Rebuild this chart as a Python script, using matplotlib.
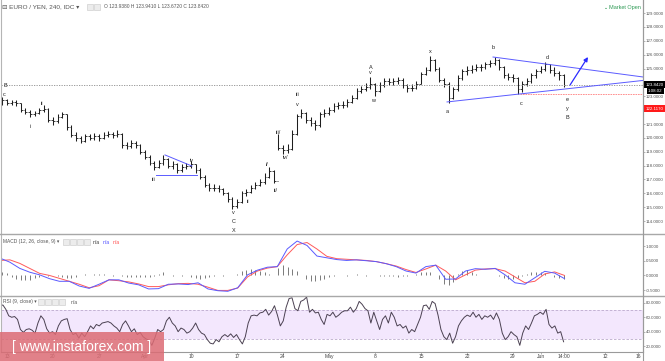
import matplotlib
matplotlib.use('Agg')
import matplotlib.pyplot as plt
from matplotlib.patches import Rectangle
from matplotlib.lines import Line2D
import numpy as np

plt.rcParams['font.family'] = ['Liberation Sans', 'DejaVu Sans']

# EUR/JPY 240 min, every half trading day (day 0 = Tue 13 Mar)
first_open = 122.6
closes = [122.7, 122.5, 122.6, 122.5, 122.0, 121.9, 121.7, 121.8, 122.0, 122.1,
          121.3, 121.2, 121.5, 121.7, 120.8, 120.2, 120.0, 119.8, 120.1, 120.0,
          120.1, 120.0, 120.2, 120.3, 120.2, 120.3, 119.5, 119.4, 119.6, 119.5,
          119.0, 118.6, 118.2, 117.9, 118.2, 118.5, 118.0, 118.1, 117.7, 117.9,
          118.0, 118.1, 117.7, 117.2, 116.6, 116.4, 116.4, 116.3, 116.0, 115.6,
          115.1, 115.4, 116.0, 116.1, 116.4, 116.6, 116.8, 117.2, 117.6, 116.9,
          119.3, 119.1, 119.2, 120.3, 121.6, 121.8, 121.3, 121.1, 120.9, 121.7,
          121.8, 122.0, 122.3, 122.4, 122.4, 122.6, 122.9, 123.4, 123.5, 123.7,
          123.9, 123.4, 123.8, 124.1, 124.0, 124.1, 124.2, 123.8, 123.6, 123.6,
          123.9, 124.6, 124.9, 125.6, 125.0, 124.2, 123.9, 122.9, 123.5, 124.3,
          124.8, 124.9, 125.0, 125.1, 125.1, 125.3, 125.4, 125.6, 125.1, 124.5,
          124.4, 124.3, 123.5, 123.9, 124.1, 124.5, 124.8, 125.0, 125.3, 124.9,
          124.7, 124.5, 123.842]
highs = [122.95, 122.8, 122.75, 122.7, 122.5, 122.15, 122.0, 121.95, 122.15, 122.35,
         122.15, 121.5, 121.7, 121.9, 121.75, 120.95, 120.4, 120.15, 120.3, 120.3,
         120.35, 120.25, 120.45, 120.5, 120.45, 120.55, 120.35, 119.7, 119.85, 119.8,
         119.55, 119.1, 118.75, 118.3, 118.4, 118.75, 118.55, 118.35, 118.2, 118.1,
         118.2, 118.3, 118.15, 117.8, 117.3, 116.75, 116.65, 116.6, 116.4, 116.1,
         115.75, 115.6, 116.2, 116.35, 116.6, 116.85, 117.05, 117.45, 117.9, 117.7,
         120.3, 119.5, 119.55, 120.6, 121.75, 122.1, 121.9, 121.5, 121.3, 121.85,
         122.05, 122.2, 122.5, 122.6, 122.65, 122.8, 123.1, 123.6, 123.75, 123.95,
         124.4, 123.95, 124.0, 124.35, 124.3, 124.35, 124.4, 124.3, 123.9, 123.85,
         124.1, 124.75, 125.1, 125.9, 125.7, 125.1, 124.3, 124.0, 123.7, 124.5,
         125.0, 125.15, 125.25, 125.35, 125.35, 125.5, 125.6, 125.85, 125.7, 125.2,
         124.7, 124.6, 124.4, 124.1, 124.35, 124.7, 125.0, 125.2, 125.45, 125.35,
         125.1, 124.8, 124.6]
lows = [122.4, 122.35, 122.4, 122.3, 121.85, 121.7, 121.5, 121.55, 121.75, 121.9,
        121.15, 120.95, 121.1, 121.4, 120.6, 120.05, 119.8, 119.6, 119.7, 119.85,
        119.85, 119.8, 119.9, 120.05, 120.0, 120.05, 119.3, 119.2, 119.3, 119.3,
        118.85, 118.45, 118.05, 117.7, 117.8, 118.05, 117.8, 117.75, 117.5, 117.55,
        117.75, 117.85, 117.5, 117.0, 116.45, 116.2, 116.15, 116.1, 115.85, 115.4,
        114.85, 114.95, 115.3, 115.8, 116.0, 116.3, 116.5, 116.7, 117.1, 116.75,
        119.1, 118.85, 118.9, 119.1, 120.2, 121.45, 121.1, 120.85, 120.6, 120.8,
        121.5, 121.65, 121.85, 122.1, 122.15, 122.2, 122.5, 122.8, 123.2, 123.35,
        123.5, 123.05, 123.3, 123.7, 123.8, 123.8, 123.9, 123.6, 123.3, 123.35,
        123.5, 123.85, 124.5, 124.8, 124.85, 124.0, 123.7, 122.55, 122.8, 123.4,
        124.2, 124.55, 124.7, 124.8, 124.85, 124.95, 125.1, 125.25, 124.9, 124.3,
        124.15, 124.05, 123.15, 123.3, 123.75, 123.95, 124.35, 124.65, 124.85, 124.65,
        124.45, 124.2, 123.67]

# MACD (12, 26, close, 9)
macd_line = [0.59, 0.45, 0.24, 0.11, 0.02, -0.11, -0.20, -0.20, -0.36, -0.44,
             -0.30, -0.15, -0.15, -0.26, -0.32, -0.46, -0.45, -0.30, -0.29, -0.31,
             -0.25, -0.46, -0.52, -0.54, -0.42, 0.02, 0.18, 0.28, 0.30, 0.90,
             1.17, 1.02, 0.66, 0.60, 0.54, 0.51, 0.53, 0.50, 0.47, 0.40,
             0.30, 0.15, 0.08, 0.30, 0.35, -0.13, -0.12, 0.15, 0.23, 0.21,
             0.24, 0.02, -0.25, -0.30, -0.08, 0.14, 0.08, -0.11]
signal_line = [0.51, 0.53, 0.41, 0.24, 0.07, 0.0, -0.10, -0.20, -0.30, -0.42,
               -0.35, -0.15, -0.18, -0.22, -0.29, -0.38, -0.38, -0.32, -0.28, -0.27,
               -0.30, -0.40, -0.51, -0.51, -0.43, -0.05, 0.15, 0.25, 0.30, 0.70,
               1.05, 1.12, 0.90, 0.65, 0.57, 0.55, 0.53, 0.51, 0.47, 0.40,
               0.32, 0.20, 0.10, 0.22, 0.35, 0.15, -0.15, 0.02, 0.18, 0.22,
               0.23, 0.15, -0.05, -0.25, -0.20, 0.05, 0.12, 0.0]
macd_hist = [0.12, 0.08, -0.05, -0.12, -0.16, -0.17, -0.15, -0.10, -0.04, 0.02,
             -0.03, 0.03, -0.02, -0.07, -0.09, -0.08, -0.05, 0.03, 0.05, 0.02,
             0.04, 0.06, 0.05, 0.03, -0.01, 0.01, -0.03, -0.05, -0.06, -0.04,
             -0.05, -0.06, -0.04, -0.02, 0.04, 0.11, 0.03, -0.02, 0.02, -0.01,
             0.02, -0.05, -0.09, -0.11, -0.10, -0.07, -0.03, 0.01, -0.01, 0.02,
             0.01, 0.05, 0.15, 0.20, 0.22, 0.18, 0.14, 0.10, 0.06, 0.03,
             0.25, 0.34, 0.28, 0.22, 0.15, 0.02, -0.12, -0.18, -0.20, -0.16,
             -0.12, -0.06, -0.02, 0.01, 0.02, -0.01, 0.02, 0.04, 0.02, -0.01,
             0.03, 0.01, -0.02, -0.01, -0.03, -0.02, -0.04, -0.03, -0.01, 0.02,
             0.05, 0.10, 0.13, 0.12, 0.02, -0.12, -0.28, -0.31, -0.22, 0.05,
             0.15, 0.17, 0.12, 0.06, 0.03, 0.02, 0.03, 0.02, -0.03, -0.08,
             -0.12, -0.13, -0.10, -0.02, 0.06, 0.11, 0.13, 0.12, 0.08, 0.01,
             -0.06, -0.09, -0.11]

# RSI (9, close)
rsi = [76, 77, 71, 62, 60, 61, 57, 43, 39, 43,
       44, 42, 38, 52, 62, 57, 44, 38, 40, 36,
       48, 55, 57, 58, 43, 36, 38, 31, 38, 33,
       40, 48, 44, 50, 48, 52, 53, 54, 52, 48,
       45, 40, 50, 55, 48, 40, 44, 36, 39, 33,
       30, 28, 21, 31, 43, 40, 43, 55, 60, 52,
       48, 40, 45, 43, 38, 40, 45, 52, 43, 38,
       36, 29, 24, 23, 29, 26, 33, 36, 33, 37,
       32, 36, 29, 23, 33, 52, 62, 63, 62, 66,
       67, 71, 63, 68, 76, 63, 48, 55, 74, 86,
       87, 72, 69, 82, 84, 88, 67, 71, 66, 67,
       57, 50, 64, 62, 67, 60, 63, 67, 69, 69,
       74, 67, 72, 82, 78, 72, 69, 52, 67, 55,
       43, 57, 62, 52, 67, 60, 48, 50, 45, 48,
       38, 43, 40, 50, 60, 76, 77, 71, 82, 79,
       63, 43, 33, 29, 38, 24, 33, 48, 55, 60,
       63, 61, 67, 60, 64, 57, 62, 60, 63, 57,
       66, 57, 38, 29, 33, 40, 36, 33, 21, 38,
       48, 43, 52, 62, 64, 67, 64, 71, 50, 45,
       48, 38, 40, 26]

tick_days = [0, 5, 10, 15, 20, 25, 30, 35, 40, 45, 50, 55, 58, 60.5, 65, 68.6]
tick_labels = ['13', '20', '27', 'Apr', '10', '17', '24', 'May', '8', '15',
               '22', '29', 'Jun', '14:00', '12', '16']

# price axis ticks (122 and 124 sit under the price boxes)
price_ticks = [114, 115, 116, 117, 118, 119, 120, 121, 123, 125, 126, 127, 128, 129]

last_price = 123.842
red_level = 123.16
red_label = 122.117

# elliott wave counts (day, price)
wave_labels = [('B', -0.2, 123.8), ('c', -0.3, 123.1), ('i', 2.5, 120.8), ('ii', 3.8, 122.5),
               ('iii', 15.9, 117.0), ('iv', 20.1, 118.4), ('v', 24.6, 114.6),
               ('C', 24.6, 113.95), ('X', 24.6, 113.3), ('ii', 26.2, 115.4),
               ('i/', 28.3, 118.1), ('ii/', 29.2, 116.2), ('iii/', 29.5, 120.4),
               ('iv/', 30.3, 118.55), ('iii', 31.6, 123.1), ('v', 31.6, 122.4),
               ('A', 39.5, 125.1), ('v', 39.5, 124.7), ('w', 39.8, 122.7),
               ('x', 46.0, 126.2), ('a', 47.8, 121.9), ('b', 52.8, 126.5),
               ('c', 55.9, 122.5), ('d', 58.7, 125.8), ('e', 60.9, 122.8),
               ('y', 60.9, 122.15), ('B', 60.9, 121.5)]

W, H = 665, 361
fig = plt.figure(figsize=(W / 100, H / 100), dpi=100)


def box(top, bottom):
    return [1 / W, 1 - bottom / H, 642 / W, (bottom - top) / H]


ax = fig.add_axes(box(0, 234))
ax_macd = fig.add_axes(box(234, 296), sharex=ax)
ax_rsi = fig.add_axes(box(296, 352), sharex=ax)

for a in (ax, ax_macd, ax_rsi):
    for s in ('top', 'bottom'):
        a.spines[s].set_visible(False)
    a.spines['left'].set_color('#b5b5b5')
    a.spines['right'].set_color('#9a9a9a')
    a.spines['left'].set_linewidth(0.8)
    a.spines['right'].set_linewidth(0.8)
    a.yaxis.tick_right()
    a.tick_params(axis='y', labelsize=3.2, labelcolor='#555555', color='#999999',
                  length=1.2, width=0.5, pad=0.8)
    a.tick_params(axis='x', bottom=False, labelbottom=False)
ax_rsi.spines['bottom'].set_visible(True)
ax_rsi.spines['bottom'].set_color('#9a9a9a')
ax_rsi.spines['bottom'].set_linewidth(0.8)
ax_rsi.tick_params(axis='x', bottom=True, labelbottom=True, labelsize=3.6,
                   labelcolor='#444444', color='#999999', length=1.2, width=0.5, pad=0.4)

ax.set_xlim(-0.65, 69.13)

# price bars
days = -0.5 + 0.5 * np.arange(len(closes))
opens = np.r_[first_open, closes[:-1]]
ax.vlines(days, lows, highs, color='#1e1e1e', lw=0.75)
ax.hlines(opens, days - 0.2, days, color='#1e1e1e', lw=0.6)
ax.hlines(closes, days, days + 0.2, color='#1e1e1e', lw=0.6)

ax.set_ylim(113.07, 129.94)
ax.set_yticks(price_ticks)
ax.yaxis.set_major_formatter(lambda v, p: f'{v:.4f}')

ax.axhline(last_price, color='#8c8c8c', lw=0.6, ls=(0, (1.5, 1.5)))
ax.plot([55.76, 69.13], [red_level, red_level], color='#ff8080', lw=0.6, ls=(0, (2, 1)))

blue = '#5b5bff'
ax.plot([52.83, 69.13], [125.83, 124.39], color=blue, lw=0.7)
ax.plot([47.83, 69.13], [122.59, 124.14], color=blue, lw=0.7)
ax.plot([17.17, 20.1], [118.77, 117.97], color=blue, lw=0.7)
ax.plot([16.2, 20.65], [117.32, 117.32], color=blue, lw=0.7)
ax.annotate('', xy=(63.15, 125.83), xytext=(61.2, 123.81),
            arrowprops=dict(arrowstyle='-|>', color='#2a2aff', lw=0.9,
                            mutation_scale=6, shrinkA=0, shrinkB=0))

for txt, d, p in wave_labels:
    ax.text(d, p, txt, fontsize=4, color='#222222', ha='center', va='center')

ytr = ax.get_yaxis_transform()
lab = dict(fontsize=3.2, ha='left', va='center', transform=ytr, clip_on=False, zorder=5)
ax.text(1.004, last_price, f'{last_price:.4f}', color='white',
        bbox=dict(boxstyle='square,pad=0.25', fc='black', ec='none'), **lab)
ax.text(1.008, last_price - 0.46, '1:08:02', color='white',
        bbox=dict(boxstyle='square,pad=0.25', fc='black', ec='none'), **lab)
ax.text(1.004, red_label, f'{red_label:.4f}', color='white',
        bbox=dict(boxstyle='square,pad=0.25', fc='#ff1a1a', ec='none'), **lab)

# MACD panel
t_ind = np.linspace(-0.76, 60.6, len(macd_line))
t_hist = -0.5 + 0.5 * np.arange(len(macd_hist))
ax_macd.vlines(t_hist, 0, macd_hist, color='#7a7a7a', lw=0.7)
ax_macd.plot(t_ind, signal_line, color='#ff5a5a', lw=0.7)
ax_macd.plot(t_ind, macd_line, color='#5a5aff', lw=0.7)
ax_macd.set_ylim(-0.70, 1.41)
ax_macd.set_yticks([-0.5, 0.0, 0.5, 1.0])
ax_macd.yaxis.set_major_formatter(lambda v, p: f'{v:.4f}')

# RSI panel
t_rsi = np.linspace(-0.76, 60.5, len(rsi))
ax_rsi.axhspan(30, 70, color='#f3e7fd', lw=0)
ax_rsi.axhline(70, color='#bba9cc', lw=0.6, ls=(0, (3, 2)))
ax_rsi.axhline(30, color='#bba9cc', lw=0.6, ls=(0, (3, 2)))
ax_rsi.plot(t_rsi, rsi, color='#4b4152', lw=0.7)
ax_rsi.set_ylim(11.8, 89.5)
ax_rsi.set_yticks([20, 40, 60, 80])
ax_rsi.yaxis.set_major_formatter(lambda v, p: f'{v:.4f}')
ax_rsi.set_xticks(tick_days)
ax_rsi.set_xticklabels(tick_labels)

# panel separators and right axis line
for yy in (234, 296):
    fig.add_artist(Line2D([0, 1], [1 - yy / H] * 2, color='#a8a8a8', lw=1.0,
                          transform=fig.transFigure))
fig.add_artist(Line2D([643 / W] * 2, [0, 1], color='#9a9a9a', lw=0.8,
                      transform=fig.transFigure))


def ftext(x, y, s, **kw):
    fig.text(x / W, 1 - y / H, s, va='center', **kw)


def icons(x0, y, n):
    for i in range(n):
        fig.add_artist(Rectangle(((x0 + i * 7) / W, 1 - (y + 2.75) / H), 5.5 / W, 5.5 / H,
                                 transform=fig.transFigure, fc='#ececec',
                                 ec='#c8c8c8', lw=0.4))


ftext(2, 7, '⊟ EURO / YEN, 240, IDC ▾', fontsize=4.6, color='#555555')
icons(87, 7, 2)
ftext(104, 7, 'O 123.9380 H 123.9410 L 123.6720 C 123.8420', fontsize=3.5, color='#555555')
ftext(605, 8, '●', fontsize=2.5, color='#2e9a55')
ftext(609, 8, 'Market Open', fontsize=4.0, color='#2e9a55')

ftext(3, 242, 'MACD (12, 26, close, 9) ▾', fontsize=3.5, color='#555555')
icons(63, 242, 4)
ftext(93, 242, 'n/a', fontsize=3.6, color='#333333')
ftext(103, 242, 'n/a', fontsize=3.6, color='#4a4aff')
ftext(113, 242, 'n/a', fontsize=3.6, color='#ff4a4a')

ftext(3, 302, 'RSI (9, close) ▾', fontsize=3.5, color='#555555')
icons(38, 302, 4)
ftext(71, 302, 'n/a', fontsize=3.6, color='#555555')

# watermark
fig.add_artist(Rectangle((0, 0), 164 / W, 29 / H, transform=fig.transFigure,
                         fc='#dc6b74', alpha=0.85, ec='none', zorder=10))
fig.text(82 / W, 1 - 347 / H, '[ www.instaforex.com ]', ha='center', va='center',
         fontsize=10, color='white', zorder=11)

fig.savefig('out.png', dpi=100)
